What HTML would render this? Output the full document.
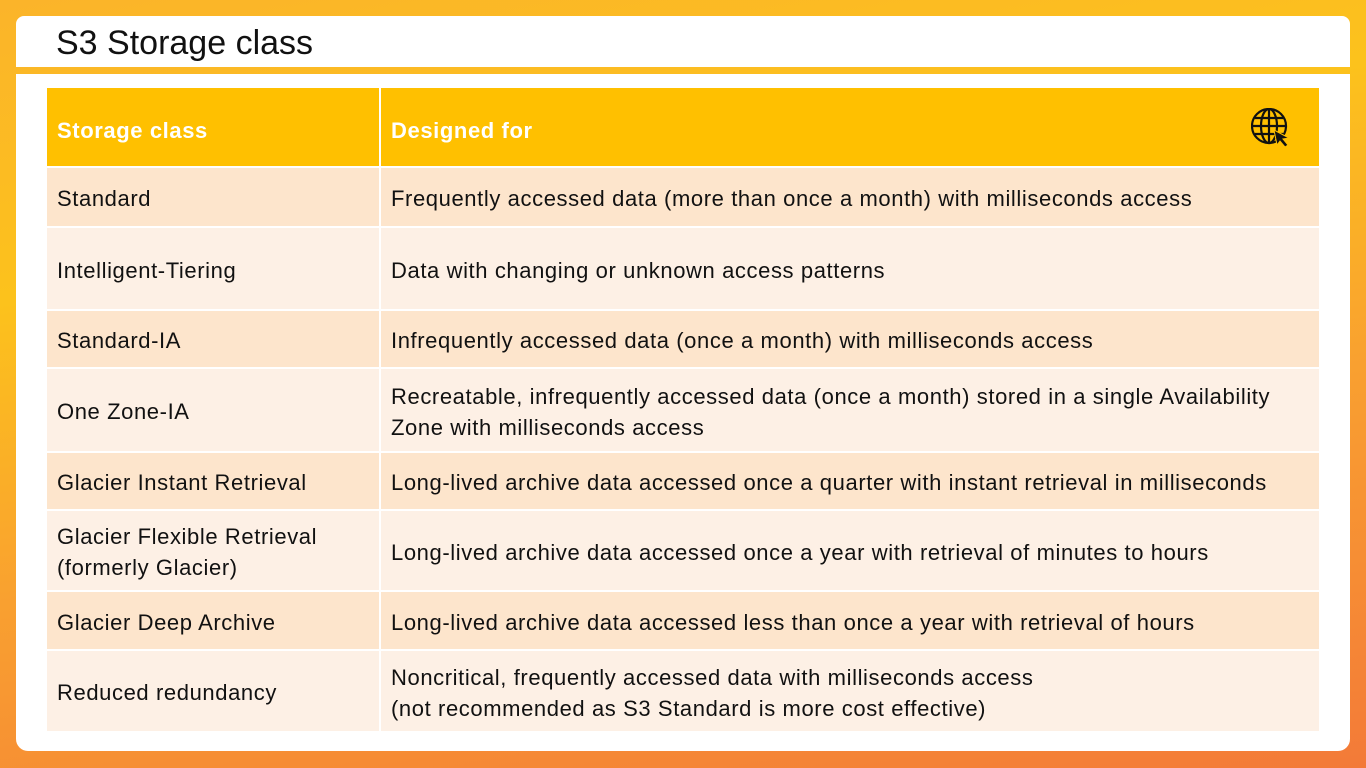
<!DOCTYPE html>
<html><head><meta charset="utf-8"><style>
*{margin:0;padding:0;box-sizing:border-box}
body{width:1366px;height:768px;overflow:hidden;position:relative;font-family:"Liberation Sans",sans-serif;
background:linear-gradient(170deg,#fbb42a 0%,#fcc21c 30%,#f9a030 60%,#f37a38 100%);}
#title-box{position:absolute;left:16px;top:16px;width:1334px;height:51px;background:#fff;border-radius:8px 8px 0 0}
#title{position:absolute;left:56px;top:24px;font-size:34px;color:#111}
#panel{position:absolute;left:16px;top:74px;width:1334px;height:677px;background:#fff;border-radius:0 0 12px 12px}
table{position:absolute;left:47px;top:88px;width:1272px;border-collapse:separate;border-spacing:0}
td,th{font-size:22px;letter-spacing:0.6px;color:#111;text-align:left;padding:3px 10px 0 10px;vertical-align:middle;border-bottom:2px solid #fff;line-height:31px}
th{background:#ffc000;color:#fff;font-weight:bold;height:80px;padding-top:6px}
td.c1,th.c1{width:334px;border-right:2px solid #fff}
tr.o td{background:#fde5cc}
tr.e td{background:#fdf0e5}
#globe{position:absolute;right:28px;top:20px}
</style></head><body>
<div id="title-box"></div>
<div id="title">S3 Storage class</div>
<div id="panel"></div>
<table>
<tr><th class="c1">Storage class</th><th style="position:relative">Designed for
<svg id="globe" width="40" height="40" viewBox="0 0 40 40"><g fill="none" stroke="#111" stroke-width="2.2"><circle cx="18" cy="18" r="17"/><ellipse cx="18" cy="18" rx="8" ry="17"/><line x1="18" y1="1" x2="18" y2="35"/><line x1="1" y1="18" x2="35" y2="18"/><line x1="4" y1="10" x2="32" y2="10"/><line x1="4" y1="26" x2="32" y2="26"/></g><path d="M23 22 L38 30 L32 31 L37 37 L34 39 L29 33 L26 37 Z" fill="#111" stroke="#ffc000" stroke-width="1"/></svg></th></tr>
<tr class="o" style="height:60px"><td class="c1">Standard</td><td>Frequently accessed data (more than once a month) with milliseconds access</td></tr>
<tr class="e" style="height:83px"><td class="c1">Intelligent-Tiering</td><td>Data with changing or unknown access patterns</td></tr>
<tr class="o" style="height:58px"><td class="c1">Standard-IA</td><td>Infrequently accessed data (once a month) with milliseconds access</td></tr>
<tr class="e" style="height:84px"><td class="c1">One Zone-IA</td><td>Recreatable, infrequently accessed data (once a month) stored in a single Availability<br>Zone with milliseconds access</td></tr>
<tr class="o" style="height:58px"><td class="c1">Glacier Instant Retrieval</td><td>Long-lived archive data accessed once a quarter with instant retrieval in milliseconds</td></tr>
<tr class="e" style="height:81px"><td class="c1">Glacier Flexible Retrieval<br>(formerly Glacier)</td><td>Long-lived archive data accessed once a year with retrieval of minutes to hours</td></tr>
<tr class="o" style="height:59px"><td class="c1">Glacier Deep Archive</td><td>Long-lived archive data accessed less than once a year with retrieval of hours</td></tr>
<tr class="e" style="height:82px"><td class="c1">Reduced redundancy</td><td>Noncritical, frequently accessed data with milliseconds access<br>(not recommended as S3 Standard is more cost effective)</td></tr>
</table>
</body></html>
